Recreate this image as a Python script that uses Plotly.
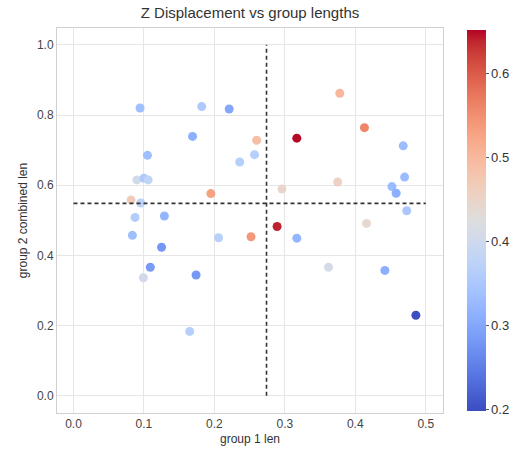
import plotly.graph_objects as go

# group 1 len, group 2 combined len, Z displacement
group1_len = [0.0945, 0.105, 0.090, 0.100, 0.106,
              0.0817, 0.0954, 0.0874, 0.129, 0.0836, 0.125, 0.109, 0.0992,
              0.182, 0.221, 0.169, 0.260, 0.257, 0.236, 0.195,
              0.206, 0.252, 0.289, 0.174, 0.165,
              0.378, 0.413, 0.317, 0.468, 0.470, 0.375, 0.452, 0.458, 0.296,
              0.473, 0.416, 0.317, 0.362, 0.442, 0.486]
group2_len = [0.820, 0.685, 0.615, 0.620, 0.615,
              0.558, 0.549, 0.508, 0.512, 0.457, 0.423, 0.366, 0.336,
              0.824, 0.817, 0.739, 0.728, 0.687, 0.666, 0.576,
              0.450, 0.453, 0.482, 0.344, 0.183,
              0.862, 0.764, 0.734, 0.712, 0.623, 0.609, 0.596, 0.577, 0.589,
              0.527, 0.491, 0.449, 0.366, 0.357, 0.229]
z_disp = [0.335, 0.335, 0.405, 0.355, 0.380,
          0.465, 0.375, 0.360, 0.320, 0.335, 0.280, 0.285, 0.405,
          0.355, 0.300, 0.310, 0.490, 0.365, 0.365, 0.530,
          0.370, 0.540, 0.640, 0.280, 0.365,
          0.500, 0.560, 0.650, 0.330, 0.330, 0.455, 0.330, 0.310, 0.445,
          0.350, 0.440, 0.320, 0.410, 0.310, 0.200]

x_threshold = 0.274
y_threshold = 0.548
x_line_range = [0.0, 0.5]
y_line_range = [0.0, 1.0]

x_ticks = [0.0, 0.1, 0.2, 0.3, 0.4, 0.5]
y_ticks = [0.0, 0.2, 0.4, 0.6, 0.8, 1.0]
cbar_ticks = [0.2, 0.3, 0.4, 0.5, 0.6]

coolwarm_rgb = [
    (59, 76, 192), (68, 90, 204), (77, 104, 215), (87, 117, 225), (98, 130, 234),
    (108, 142, 241), (119, 154, 247), (130, 165, 251), (141, 176, 254), (152, 185, 255),
    (163, 194, 255), (174, 201, 253), (184, 208, 249), (194, 213, 244), (204, 217, 238),
    (213, 219, 230), (221, 221, 221), (229, 216, 209), (236, 211, 197), (241, 204, 185),
    (245, 196, 173), (247, 187, 160), (247, 177, 148), (247, 166, 135), (244, 154, 123),
    (241, 141, 111), (236, 127, 99), (229, 112, 88), (222, 96, 77), (213, 80, 66),
    (203, 62, 56), (192, 40, 47), (180, 4, 38)]
n = len(coolwarm_rgb) - 1
coolwarm = [[i / n, "rgb(%d,%d,%d)" % c] for i, c in enumerate(coolwarm_rgb)]

font_family = "Liberation Sans, Arial, sans-serif"

fig = go.Figure()
fig.add_trace(go.Scatter(
    x=group1_len, y=group2_len, mode="markers",
    marker=dict(
        size=9, color=z_disp, colorscale=coolwarm,
        cmin=min(z_disp) - 0.002, cmax=max(z_disp) + 0.002,
        line=dict(width=0),
        colorbar=dict(
            x=1.063, xanchor="left", xpad=0, y=0.5, yanchor="middle", ypad=0,
            len=0.99, lenmode="fraction", thickness=19,
            outlinewidth=0, tickvals=cbar_ticks, tickformat=".1f",
            ticks="outside", ticklen=3, tickcolor="#555",
            tickfont=dict(size=13, color="#333", family=font_family),
        ),
    ),
    showlegend=False,
))
fig.add_trace(go.Scatter(
    x=[x_threshold, x_threshold], y=y_line_range, mode="lines",
    line=dict(color="#333", width=1.6, dash="4px,3px"), showlegend=False,
))
fig.add_trace(go.Scatter(
    x=x_line_range, y=[y_threshold, y_threshold], mode="lines",
    line=dict(color="#333", width=1.6, dash="4px,3px"), showlegend=False,
))

axis_common = dict(
    showgrid=True, gridcolor="#e6e6e6", gridwidth=1,
    zeroline=False, showline=True, linecolor="#d0d0d0", linewidth=1, mirror=True,
    ticks="", tickformat=".1f",
    tickfont=dict(size=12, color="#444", family=font_family),
)

fig.update_layout(
    width=516, height=451,
    margin=dict(l=57, r=73, t=28, b=38, autoexpand=False),
    paper_bgcolor="white", plot_bgcolor="white",
    font=dict(family=font_family, color="#333"),
    title=dict(text="Z Displacement vs group lengths", x=0.5, xref="paper",
               xanchor="center", y=0.972, yanchor="middle",
               font=dict(size=15, color="#333", family=font_family)),
    xaxis=dict(range=[-0.0234, 0.5245], tickvals=x_ticks,
               title=dict(text="group 1 len", standoff=4,
                          font=dict(size=12, color="#333", family=font_family)),
               **axis_common),
    yaxis=dict(range=[-0.0495, 1.048], tickvals=y_ticks,
               title=dict(text="group 2 combined len", standoff=6,
                          font=dict(size=12, color="#333", family=font_family)),
               **axis_common),
)

fig.write_html("out.html")
